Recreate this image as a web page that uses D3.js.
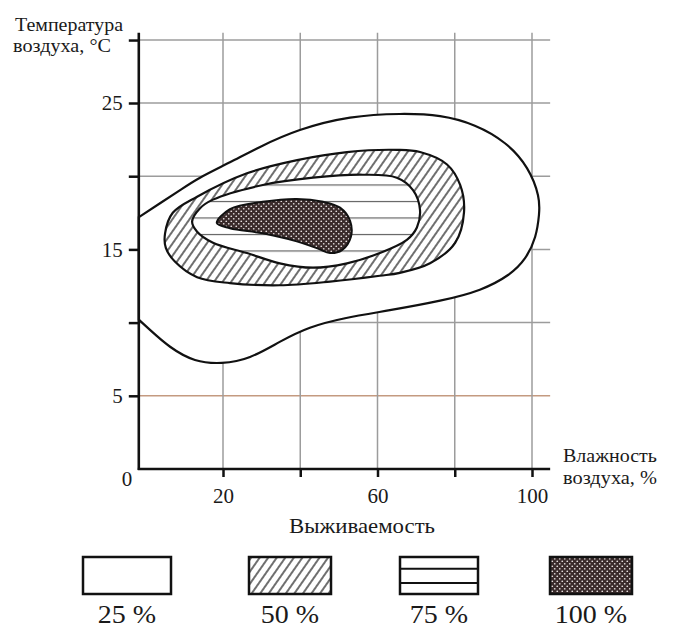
<!DOCTYPE html>
<html><head><meta charset="utf-8">
<script src="https://cdn.jsdelivr.net/npm/d3@7/dist/d3.min.js"></script>
<style>
body{margin:0;background:#fff}
svg{display:block}
text{font-family:"Liberation Serif","Times New Roman",serif;fill:#1a1a1a}
</style>
</head><body>
<svg id="c" width="685" height="628"></svg>
<script>
// Survival zones: [humidity %, temperature °C]
const contour25 = [[-1.8,17.2],[3.7,18.15],[8.9,19.05],[14.05,19.9],[21.8,20.95],[29.6,22.0],[39.9,23.15],[52.9,24.0],[65.8,24.25],[76.2,24.1],[85.2,23.45],[93.0,22.25],[98.7,20.55],[101.55,18.7],[101.8,17.35],[100.8,15.85],[98.2,14.4],[93.8,13.25],[86.5,12.25],[76.2,11.5],[63.2,10.85],[51.6,10.3],[42.5,9.65],[34.8,8.7],[27.0,7.65],[19.7,7.25],[12.75,7.45],[6.3,8.35],[1.1,9.5],[-1.8,10.2]];
const contour50 = [[5.0,16.1],[7.0,17.5],[13.3,18.6],[26.2,20.2],[39.2,21.1],[52.1,21.65],[65.0,21.8],[71.0,21.65],[78.0,20.8],[81.4,19.4],[82.4,17.55],[80.1,15.45],[73.6,14.05],[65.8,13.4],[60.6,13.2],[47.7,12.8],[34.7,12.55],[21.8,12.7],[13.3,13.1],[7.6,14.15],[5.2,15.1]];
const contour75 = [[12.0,16.9],[14.0,17.8],[17.4,18.4],[30.3,19.4],[43.3,19.9],[56.2,20.1],[65.0,19.9],[69.2,19.05],[71.0,17.7],[70.2,16.5],[67.6,15.65],[60.6,14.75],[52.1,14.05],[43.3,13.75],[34.7,14.05],[26.2,14.75],[17.4,15.45],[13.3,16.2]];
const contour100 = [[18.4,16.8],[21.8,17.75],[30.3,18.25],[39.1,18.45],[45.9,18.25],[50.3,17.85],[52.9,16.95],[53.1,15.85],[50.8,14.95],[47.7,14.75],[44.6,15.05],[39.1,15.55],[30.3,16.1],[21.8,16.45]];

const xTicks = [20,40,60,80,100];
const xTickLabels = [20,60,100];
const yTicks = [5,10,15,20,25,29.3];
const yTickLabels = [5,15,25];
const xAxisExtent = [-1.8,104.7];
const yAxisExtent = [0,29.8];
const yTitle = ["Температура","воздуха, °С"];
const xTitle = ["Влажность","воздуха, %"];
const legendTitle = "Выживаемость";
const legendLabels = ["25 %","50 %","75 %","100 %"];

// layout (pixels)
const legendCenters = [127,290,439,591];
const legendWidths = [88,82,78,82];

const svg = d3.select("#c");
const x = d3.scaleLinear().domain([0,100]).range([145.75,532]);
const y = d3.scaleLinear().domain([0,25]).range([469,103]);

// patterns
const defs = svg.append("defs");
const ph = defs.append("pattern").attr("id","hatch").attr("patternUnits","userSpaceOnUse")
  .attr("width",7).attr("height",7).attr("patternTransform","rotate(35)");
ph.append("rect").attr("width",7).attr("height",7).attr("fill","#fff");
ph.append("line").attr("x1",1).attr("x2",1).attr("y1",0).attr("y2",7).attr("stroke","#222").attr("stroke-width",1.3);

const pl = defs.append("pattern").attr("id","hlines").attr("patternUnits","userSpaceOnUse")
  .attr("width",10).attr("height",16.5);
pl.append("rect").attr("width",10).attr("height",16.5).attr("fill","#fff");
pl.append("line").attr("x1",0).attr("x2",10).attr("y1",3.5).attr("y2",3.5).attr("stroke","#555").attr("stroke-width",1.1);

const pd = defs.append("pattern").attr("id","dots").attr("patternUnits","userSpaceOnUse")
  .attr("width",5).attr("height",5);
pd.append("rect").attr("width",5).attr("height",5).attr("fill","#3a2b2b");
pd.append("circle").attr("cx",1.25).attr("cy",1.25).attr("r",0.85).attr("fill","#e8e2e2");
pd.append("circle").attr("cx",3.75).attr("cy",3.75).attr("r",0.85).attr("fill","#e8e2e2");

// grid
const g = svg.append("g");
g.selectAll(".hg").data(yTicks).join("line")
  .attr("x1",x(xAxisExtent[0])).attr("x2",x(xAxisExtent[1]))
  .attr("y1",d=>y(d)).attr("y2",d=>y(d))
  .attr("stroke",d=>d===5?"#c49a80":"#9c9c9c").attr("stroke-width",1.5);
g.selectAll(".vg").data(xTicks).join("line")
  .attr("x1",d=>x(d)).attr("x2",d=>x(d))
  .attr("y1",y(0)).attr("y2",y(yAxisExtent[1]))
  .attr("stroke","#9c9c9c").attr("stroke-width",1.5);

// contours
const openLine = d3.line().x(d=>x(d[0])).y(d=>y(d[1])).curve(d3.curveNatural);
const closedLine = d3.line().x(d=>x(d[0])).y(d=>y(d[1])).curve(d3.curveCatmullRomClosed.alpha(0.5));

g.append("path").attr("d",openLine(contour25)+"Z").attr("fill","#fff").attr("stroke","#111").attr("stroke-width",2.2);
g.append("path").attr("d",closedLine(contour50)).attr("fill","url(#hatch)").attr("stroke","#111").attr("stroke-width",2.2);
g.append("path").attr("d",closedLine(contour75)).attr("fill","url(#hlines)").attr("stroke","#111").attr("stroke-width",2.2);
g.append("path").attr("d",closedLine(contour100)).attr("fill","url(#dots)").attr("stroke","#111").attr("stroke-width",2);

// axes
const ax = svg.append("g").attr("transform",`translate(0,${y(0)})`)
  .call(d3.axisBottom(x).tickValues(xTicks).tickSize(8).tickPadding(11)
    .tickFormat(d=>xTickLabels.includes(d)?d:""));
const ay = svg.append("g").attr("transform",`translate(${x(xAxisExtent[0])},0)`)
  .call(d3.axisLeft(y).tickValues(yTicks).tickSize(10).tickPadding(6)
    .tickFormat(d=>yTickLabels.includes(d)?d:""));
[ax,ay].forEach(a=>{
  a.select(".domain").remove();
  a.selectAll(".tick line").attr("stroke","#111").attr("stroke-width",2.5);
  a.selectAll(".tick text").attr("font-size",21).attr("fill","#1a1a1a")
    .style("font-family","'Liberation Serif',serif");
});
svg.append("line").attr("x1",x(xAxisExtent[0])).attr("x2",x(xAxisExtent[0]))
  .attr("y1",y(0)+1).attr("y2",y(yAxisExtent[1])).attr("stroke","#111").attr("stroke-width",2.6);
svg.append("line").attr("x1",x(xAxisExtent[0])-1).attr("x2",x(xAxisExtent[1]))
  .attr("y1",y(0)).attr("y2",y(0)).attr("stroke","#111").attr("stroke-width",2.6);
svg.append("text").attr("x",127).attr("y",486).attr("text-anchor","middle").attr("font-size",21).text("0");

// titles
svg.append("text").attr("x",15).attr("y",31).attr("font-size",19).attr("textLength",108).attr("lengthAdjust","spacingAndGlyphs").text(yTitle[0]);
svg.append("text").attr("x",13).attr("y",52).attr("font-size",19).attr("textLength",98).attr("lengthAdjust","spacingAndGlyphs").text(yTitle[1]);
svg.append("text").attr("x",563).attr("y",462).attr("font-size",19).attr("textLength",94).attr("lengthAdjust","spacingAndGlyphs").text(xTitle[0]);
svg.append("text").attr("x",563).attr("y",484).attr("font-size",19).attr("textLength",94).attr("lengthAdjust","spacingAndGlyphs").text(xTitle[1]);

// legend
svg.append("text").attr("x",362).attr("y",533).attr("text-anchor","middle").attr("font-size",22)
  .attr("textLength",146).attr("lengthAdjust","spacingAndGlyphs").text(legendTitle);
const legFills = ["#fff","url(#hatch)","#fff","url(#dots)"];
const lg = svg.selectAll(".leg").data(legendLabels).join("g").attr("transform",(d,i)=>`translate(${legendCenters[i]},0)`);
lg.append("rect").attr("x",(d,i)=>-legendWidths[i]/2).attr("y",557).attr("width",(d,i)=>legendWidths[i]).attr("height",37)
  .attr("fill",(d,i)=>legFills[i]).attr("stroke","#111").attr("stroke-width",2.5);
lg.filter((d,i)=>i===2).selectAll("line.h").data([0.32,0.7]).join("line")
  .attr("x1",-39).attr("x2",39).attr("y1",f=>557+37*f).attr("y2",f=>557+37*f).attr("stroke","#111").attr("stroke-width",2);
lg.append("text").attr("y",623).attr("text-anchor","middle").attr("font-size",25).text(d=>d)
  .each(function(){ const w=this.getComputedTextLength(); d3.select(this).attr("textLength",w*1.12).attr("lengthAdjust","spacingAndGlyphs"); });
</script>
</body></html>
